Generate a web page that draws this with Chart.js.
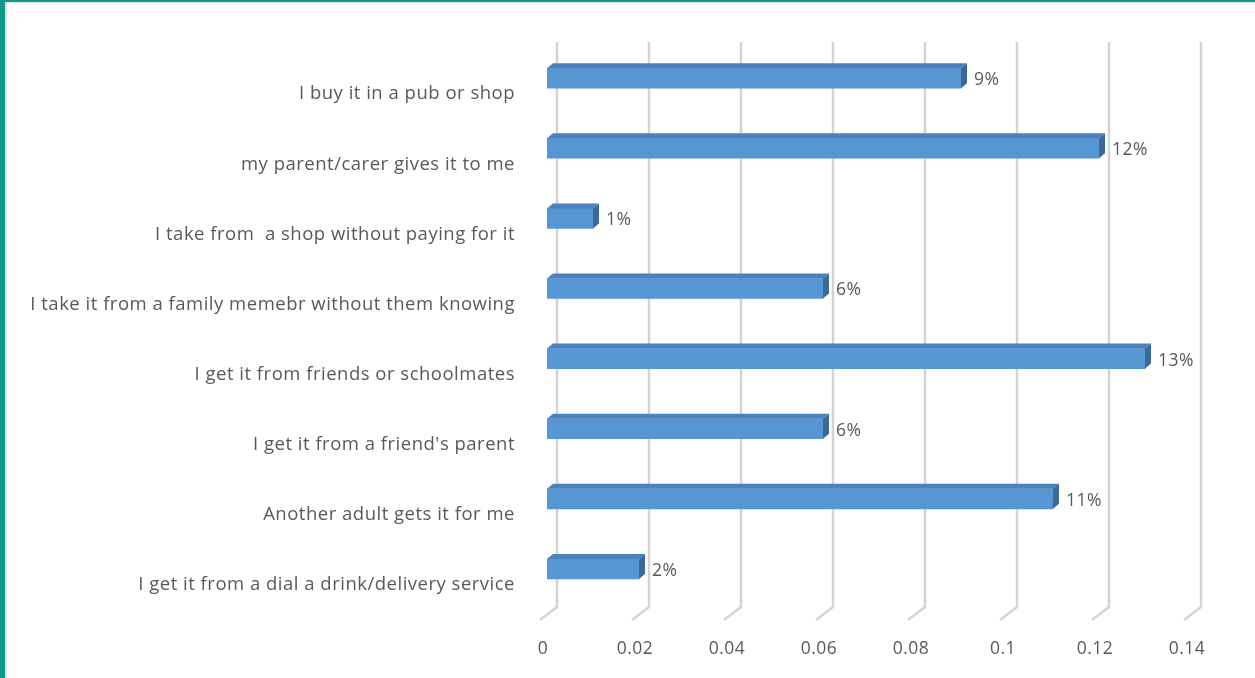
<!DOCTYPE html>
<html>
<head>
<meta charset="utf-8">
<script src="https://cdn.jsdelivr.net/npm/chart.js@4.4.1/dist/chart.umd.min.js"></script>
<style>
  html, body { margin: 0; padding: 0; background: #fff; overflow: hidden; }
  #wrap { position: absolute; left: 0; top: 0; width: 1255px; height: 678px; }
  #frame { position: absolute; left: 0; top: 0; width: 1255px; height: 678px; box-sizing: border-box;
           border-left: 5px solid #12998b; border-top: 2px solid #12998b; pointer-events: none; }
  #frame:after { content: ""; position: absolute; left: 0; top: 0; right: 0; bottom: 0;
                 border-left: 2px solid #dde3e3; border-top: 1px solid #dde3e3; }
</style>
</head>
<body>
<div id="wrap"><canvas id="chart1" width="1255" height="678"></canvas></div>
<div id="frame"></div>
<script>
const labels = [
  'I buy it in a pub or shop',
  'my parent/carer gives it to me',
  'I take from  a shop without paying for it',
  'I take it from a family memebr without them knowing',
  'I get it from friends or schoolmates',
  "I get it from a friend's parent",
  'Another adult gets it for me',
  'I get it from a dial a drink/delivery service'
];
const shares = [0.09, 0.12, 0.01, 0.06, 0.13, 0.06, 0.11, 0.02];
const axisMin = 0;
const axisMax = 0.14;
const axisStep = 0.02;

const textGrey = '#595959';
const fontFamily = '"Open Sans", Lato, sans-serif';

// depth of the 3d box: back wall sits right of the bars, floor edge left of them
const wallDx = 10, floorDx = -7, floorDy = 13;
const barDx = 6, barDy = -5;

// slightly loose lettering for all chart text
const spacingPlugin = {
  id: 'letterSpacing',
  beforeLayout(chart) { chart.ctx.letterSpacing = '0.5px'; },
  beforeDraw(chart) { chart.ctx.letterSpacing = '0.5px'; }
};

const gridPlugin = {
  id: 'grid3d',
  beforeDatasetsDraw(chart) {
    const {ctx, chartArea, scales} = chart;
    ctx.save();
    ctx.strokeStyle = '#d4d4d4';
    ctx.lineWidth = 2.5;
    scales.x.ticks.forEach(t => {
      const px = scales.x.getPixelForValue(t.value) + wallDx;
      ctx.beginPath();
      ctx.moveTo(px, chartArea.top - 1);
      ctx.lineTo(px, chartArea.bottom + 3);
      ctx.lineTo(px - wallDx + floorDx, chartArea.bottom + 3 + floorDy);
      ctx.stroke();
    });
    ctx.restore();
  }
};

const barPlugin = {
  id: 'bars3d',
  afterDatasetsDraw(chart) {
    const {ctx} = chart;
    const meta = chart.getDatasetMeta(0);
    ctx.save();
    meta.data.forEach((bar, i) => {
      const top = bar.y - bar.height / 2;
      const bottom = bar.y + bar.height / 2;
      // top face
      ctx.fillStyle = '#4a82bc';
      ctx.beginPath();
      ctx.moveTo(bar.base, top);
      ctx.lineTo(bar.x, top);
      ctx.lineTo(bar.x + barDx, top + barDy);
      ctx.lineTo(bar.base + barDx, top + barDy);
      ctx.closePath();
      ctx.fill();
      // side face
      ctx.fillStyle = '#3b6a99';
      ctx.beginPath();
      ctx.moveTo(bar.x, top);
      ctx.lineTo(bar.x + barDx, top + barDy);
      ctx.lineTo(bar.x + barDx, bottom + barDy);
      ctx.lineTo(bar.x, bottom);
      ctx.closePath();
      ctx.fill();
      // value label
      ctx.fillStyle = textGrey;
      ctx.font = '17.5px ' + fontFamily;
      ctx.textAlign = 'left';
      ctx.textBaseline = 'middle';
      ctx.fillText(Math.round(shares[i] * 100) + '%', bar.x + barDx + 7, bar.y + 2);
    });
    ctx.restore();
  }
};

const ctx = document.getElementById('chart1');
new Chart(ctx, {
  type: 'bar',
  data: {
    labels: labels,
    datasets: [{
      data: shares,
      backgroundColor: '#5696d3',
      borderWidth: 0,
      barThickness: 20
    }]
  },
  options: {
    indexAxis: 'y',
    responsive: false,
    animation: false,
    layout: { padding: { top: 32, right: 64, left: 0, bottom: 0 } },
    plugins: { legend: { display: false }, tooltip: { enabled: false } },
    scales: {
      x: {
        min: axisMin,
        max: axisMax,
        grid: { display: false, drawTicks: false },
        border: { display: false },
        afterFit(scale) { scale.height = 74; },
        ticks: {
          stepSize: axisStep,
          padding: 35,
          labelOffset: -4,
          color: textGrey,
          font: { family: fontFamily, size: 17.5 },
          callback: v => +v.toFixed(2)
        }
      },
      y: {
        grid: { display: false, drawTicks: false },
        border: { display: false },
        afterFit(scale) { scale.width = 547; },
        ticks: {
          padding: 32,
          labelOffset: 16,
          color: textGrey,
          font: { family: fontFamily, size: 18.5 }
        }
      }
    }
  },
  plugins: [spacingPlugin, gridPlugin, barPlugin]
});
</script>
</body>
</html>
